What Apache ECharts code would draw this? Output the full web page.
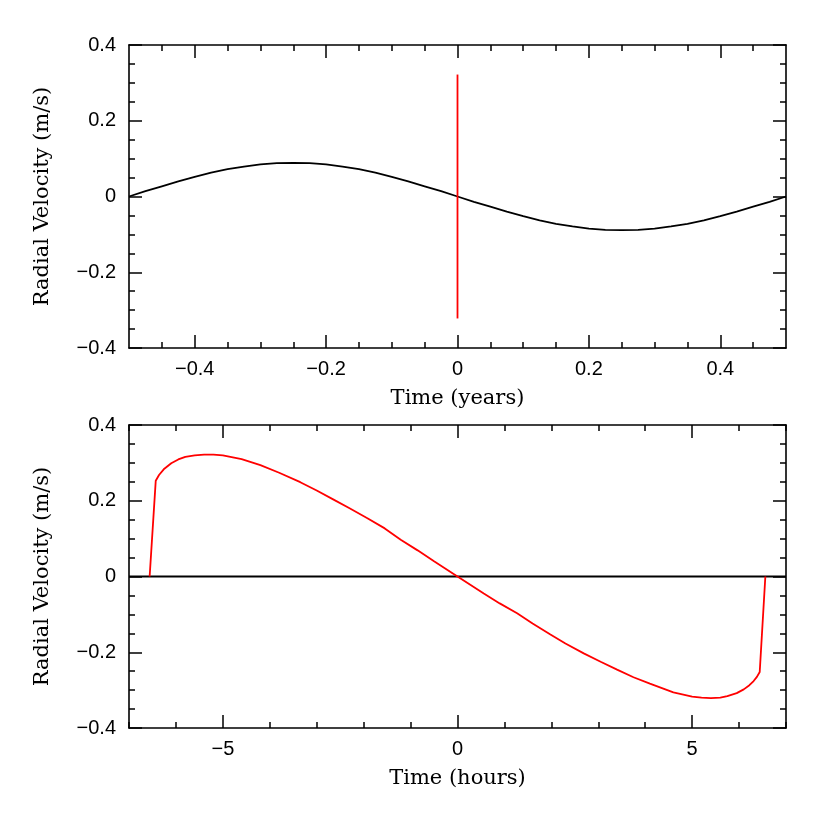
<!DOCTYPE html>
<html>
<head>
<meta charset="utf-8">
<script src="https://cdn.jsdelivr.net/npm/echarts@6/dist/echarts.min.js"></script>
<style>
  html, body { margin: 0; padding: 0; background: #fff; }
  #chart { width: 830px; height: 830px; }
</style>
</head>
<body>
<div id="chart"></div>
<script>
// top panel: time in years
const yearsTime = [-0.5, -0.475, -0.45, -0.425, -0.4, -0.375, -0.35, -0.325, -0.3, -0.275,
  -0.25, -0.225, -0.2, -0.175, -0.15, -0.125, -0.1, -0.075, -0.05, -0.025, 0,
  0.025, 0.05, 0.075, 0.1, 0.125, 0.15, 0.175, 0.2, 0.225, 0.25,
  0.275, 0.3, 0.325, 0.35, 0.375, 0.4, 0.425, 0.45, 0.475, 0.5]
const yearsVel = [0, 0.014, 0.027, 0.040, 0.052, 0.063, 0.072, 0.079, 0.085, 0.088,
  0.089, 0.088, 0.085, 0.079, 0.072, 0.063, 0.052, 0.040, 0.027, 0.014, 0,
  -0.014, -0.027, -0.040, -0.052, -0.063, -0.072, -0.079, -0.085, -0.088, -0.089,
  -0.088, -0.085, -0.079, -0.072, -0.063, -0.052, -0.040, -0.027, -0.014, 0]
const yearsRedTime = [0, 0]
const yearsRedVel = [0.322, -0.322]

// bottom panel: time in hours
const hoursBlackTime = [-7, 7]
const hoursBlackVel = [0, 0]
const hoursTime = [-6.56, -6.43, -6.36, -6.26, -6.1, -5.95, -5.8, -5.6, -5.4, -5.2, -5.0,
  -4.6, -4.2, -3.8, -3.35, -3.0, -2.64, -2.3, -1.92, -1.55, -1.21, -0.85, -0.5, 0,
  0.56, 0.9, 1.27, 1.6, 1.98, 2.3, 2.69, 3.05, 3.4, 3.75, 4.1, 4.6, 5.0, 5.2, 5.4,
  5.6, 5.75, 5.95, 6.1, 6.22, 6.31, 6.38, 6.44, 6.56]
const hoursVel = [0, 0.253, 0.268, 0.283, 0.299, 0.309, 0.316, 0.320, 0.322, 0.322, 0.320,
  0.310, 0.294, 0.274, 0.249, 0.227, 0.203, 0.180, 0.154, 0.127, 0.097, 0.069, 0.040, 0,
  -0.045, -0.071, -0.097, -0.124, -0.153, -0.177, -0.203, -0.225, -0.246, -0.266, -0.283,
  -0.306, -0.317, -0.320, -0.321, -0.320, -0.316, -0.308, -0.298, -0.287, -0.276,
  -0.265, -0.252, 0]

const yMajor = [-0.4, -0.2, 0, 0.2, 0.4]
const yMinor = [-0.35, -0.3, -0.25, -0.15, -0.1, -0.05, 0.05, 0.1, 0.15, 0.25, 0.3, 0.35]
const yearsMajor = [-0.4, -0.2, 0, 0.2, 0.4]
const yearsMinor = [-0.45, -0.35, -0.3, -0.25, -0.15, -0.1, -0.05, 0.05, 0.1, 0.15, 0.25, 0.3, 0.35, 0.45]
const hoursMajor = [-5, 0, 5]
const hoursMinor = [-7, -6, -4, -3, -2, -1, 1, 2, 3, 4, 6, 7]

const titleFont = 'DejaVu Serif'
const tickFont = 'Liberation Sans'

const fmt = v => (v === 0 ? '0' : String(Math.round(v * 100) / 100).replace('-', '\u2212'))
const zip = (a, b) => a.map((x, i) => [x, b[i]])

function makeAxes(dim, grid, position, min, max, major, minor, name, nameGap) {
  const base = {
    type: 'value', gridIndex: grid, position: position, min: min, max: max,
    splitLine: { show: false }, offset: 0
  }
  const main = Object.assign({}, base, {
    axisLine: { show: true, onZero: false, lineStyle: { color: '#000', width: 1.6 } },
    axisTick: { show: true, inside: true, length: 13, customValues: major, lineStyle: { color: '#000', width: 1.5 } },
    axisLabel: { show: false, customValues: major },
  })
  const labelled = position === 'bottom' || position === 'left'
  if (labelled) {
    main.axisLabel = {
      show: true, customValues: major, formatter: fmt, color: '#000',
      fontFamily: tickFont, fontSize: 20, margin: dim === 'y' ? 13 : 11
    }
    main.name = name
    main.nameLocation = 'middle'
    main.nameGap = nameGap
    main.nameTextStyle = { fontFamily: titleFont, fontSize: 21, color: '#000' }
  }
  const sub = Object.assign({}, base, {
    axisLine: { show: false, onZero: false },
    axisTick: { show: true, inside: true, length: 6, customValues: minor, lineStyle: { color: '#000', width: 1.5 } },
    axisLabel: { show: false }
  })
  return [main, sub]
}

const xAxes = [].concat(
  makeAxes('x', 0, 'bottom', -0.5, 0.5, yearsMajor, yearsMinor, 'Time (years)', 40),
  makeAxes('x', 0, 'top', -0.5, 0.5, yearsMajor, yearsMinor),
  makeAxes('x', 1, 'bottom', -7, 7, hoursMajor, hoursMinor, 'Time (hours)', 40),
  makeAxes('x', 1, 'top', -7, 7, hoursMajor, hoursMinor)
)
const yAxes = [].concat(
  makeAxes('y', 0, 'left', -0.4, 0.4, yMajor, yMinor, 'Radial Velocity (m/s)', 76),
  makeAxes('y', 0, 'right', -0.4, 0.4, yMajor, yMinor),
  makeAxes('y', 1, 'left', -0.4, 0.4, yMajor, yMinor, 'Radial Velocity (m/s)', 76),
  makeAxes('y', 1, 'right', -0.4, 0.4, yMajor, yMinor)
)

const lineSeries = (xi, yi, data, color) => ({
  type: 'line', xAxisIndex: xi, yAxisIndex: yi, data: data,
  showSymbol: false, symbol: 'none', smooth: false, animation: false,
  lineStyle: { color: color, width: 1.8 }
})

const chart = echarts.init(document.getElementById('chart'))
chart.setOption({
  animation: false,
  backgroundColor: '#fff',
  grid: [
    { left: 129, right: 44, top: 45, height: 303 },
    { left: 129, right: 44, top: 425, height: 303 }
  ],
  xAxis: xAxes,
  yAxis: yAxes,
  series: [
    lineSeries(0, 0, zip(yearsTime, yearsVel), '#000'),
    lineSeries(0, 0, zip(yearsRedTime, yearsRedVel), '#ff0000'),
    lineSeries(4, 4, zip(hoursBlackTime, hoursBlackVel), '#000'),
    lineSeries(4, 4, zip(hoursTime, hoursVel), '#ff0000')
  ]
})
</script>
</body>
</html>
